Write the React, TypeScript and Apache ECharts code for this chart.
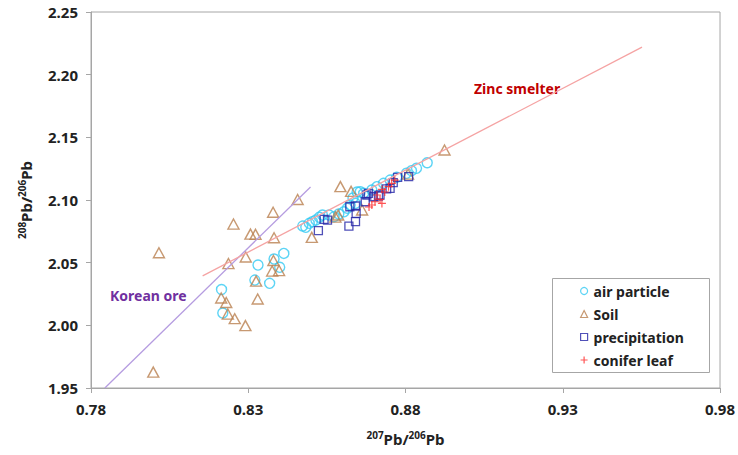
import React, { useEffect, useRef } from "react";
import * as echarts from "echarts";

const xTicks = [0.78, 0.83, 0.88, 0.93, 0.98];
const yTicks = [1.95, 2.0, 2.05, 2.1, 2.15, 2.2, 2.25];

const airParticle: [number, number][] = [
  [0.8413, 2.0574], [0.8331, 2.0481], [0.8382, 2.0529], [0.84, 2.0463],
  [0.8321, 2.0361], [0.8368, 2.0335], [0.8215, 2.0286], [0.8219, 2.0098],
  [0.8473, 2.0792], [0.8483, 2.0782], [0.8494, 2.0814], [0.8504, 2.0827],
  [0.8515, 2.084], [0.8526, 2.0862], [0.8536, 2.088], [0.8557, 2.088],
  [0.8573, 2.0867], [0.8588, 2.0888], [0.8604, 2.0906], [0.8615, 2.0934],
  [0.8641, 2.0973], [0.8656, 2.1066], [0.8667, 2.1053], [0.8693, 2.108],
  [0.8709, 2.1106], [0.873, 2.1133], [0.8751, 2.1159], [0.8772, 2.1181],
  [0.8803, 2.1213], [0.8819, 2.1234], [0.8835, 2.1253], [0.8869, 2.1297],
  [0.8646, 2.1064], [0.8633, 2.1016], [0.8624, 2.096],
];

const soil: [number, number][] = [
  [0.7998, 1.9627], [0.8016, 2.0579], [0.8237, 2.0493], [0.8292, 2.0545],
  [0.838, 2.0517], [0.8376, 2.0433], [0.8398, 2.0437], [0.8325, 2.0353],
  [0.833, 2.021], [0.8214, 2.0218], [0.823, 2.0182], [0.8235, 2.009],
  [0.8257, 2.0053], [0.8291, 1.9998], [0.8253, 2.0808], [0.8379, 2.0902],
  [0.8307, 2.0728], [0.8323, 2.0726], [0.8382, 2.0699], [0.8457, 2.1004],
  [0.8502, 2.0702], [0.8593, 2.1107], [0.8627, 2.1069], [0.8586, 2.088],
  [0.8577, 2.0864], [0.8662, 2.092], [0.8808, 2.1207], [0.8924, 2.1399],
];

const precipitation: [number, number][] = [
  [0.8523, 2.0755], [0.8541, 2.0846], [0.8552, 2.084], [0.862, 2.0792],
  [0.8641, 2.0827], [0.8623, 2.0946], [0.8641, 2.0952], [0.8643, 2.0894],
  [0.8672, 2.0986], [0.8682, 2.1053], [0.8677, 2.104], [0.8698, 2.1026],
  [0.8714, 2.1032], [0.874, 2.1088], [0.8751, 2.1093], [0.8761, 2.1138],
  [0.8775, 2.1181], [0.881, 2.1186], [0.8719, 2.104],
];

const coniferLeaf: [number, number][] = [
  [0.8703, 2.0986], [0.8719, 2.1005], [0.8725, 2.0973], [0.8693, 2.096],
  [0.8709, 2.104], [0.8725, 2.1085], [0.8746, 2.1106], [0.8756, 2.1133],
  [0.8734, 2.1064], [0.8684, 2.0944], [0.8766, 2.1159],
];

const koreanOreLine: [number, number][] = [[0.7844, 1.95], [0.8498, 2.1104]];
const zincSmelterLine: [number, number][] = [[0.8155, 2.0395], [0.9552, 2.222]];

const FONT = "'Noto Sans', 'DejaVu Sans', sans-serif";

export default function App() {
  const ref = useRef<HTMLDivElement>(null);
  useEffect(() => {
    if (!ref.current) return;
    const chart = echarts.init(ref.current, undefined, { renderer: "svg" });
    const hollow = (c: string, w = 1.3) => ({ color: "rgba(0,0,0,0)", borderColor: c, borderWidth: w });
    const nameRich = {
      sup: { fontSize: 10, fontWeight: "bold", fontFamily: FONT, color: "#222", verticalAlign: "top", lineHeight: 18 },
      b: { fontSize: 15, fontWeight: "bold", fontFamily: FONT, color: "#222", lineHeight: 18 },
    };
    chart.setOption({
      animation: false,
      backgroundColor: "#fff",
      grid: { left: 91, right: 11, top: 12, bottom: 67, show: true, borderColor: "#a6a6a6", borderWidth: 1 },
      xAxis: {
        type: "value",
        min: 0.78,
        max: 0.98,
        name: "{sup|207}{b|Pb/}{sup|206}{b|Pb}",
        nameLocation: "middle",
        nameGap: 42,
        nameTextStyle: { rich: nameRich },
        axisLine: { lineStyle: { color: "#a6a6a6" } },
        axisTick: { inside: false, length: 5, lineStyle: { color: "#a6a6a6" }, customValues: xTicks },
        splitLine: { show: false },
        axisLabel: {
          customValues: xTicks,
          formatter: (v: number) => v.toFixed(2),
          fontSize: 15, fontWeight: "bold", fontFamily: FONT, color: "#222", margin: 13,
        },
      },
      yAxis: {
        type: "value",
        min: 1.95,
        max: 2.25,
        name: "{sup|208}{b|Pb/}{sup|206}{b|Pb}",
        nameLocation: "middle",
        nameRotate: 90,
        nameGap: 56,
        nameTextStyle: { rich: nameRich },
        axisLine: { show: true, lineStyle: { color: "#a6a6a6" } },
        axisTick: { show: true, inside: false, length: 5, lineStyle: { color: "#a6a6a6" }, customValues: yTicks },
        splitLine: { show: false },
        axisLabel: {
          customValues: yTicks,
          formatter: (v: number) => v.toFixed(2),
          fontSize: 15, fontWeight: "bold", fontFamily: FONT, color: "#222", margin: 13,
        },
      },
      legend: {
        data: ["air particle", "Soil", "precipitation", "conifer leaf"],
        orient: "vertical",
        left: 580,
        top: 284,
        itemWidth: 7,
        itemHeight: 7,
        itemGap: 9,
        padding: 0,
        itemStyle: { borderWidth: 1.2 },
        textStyle: { fontSize: 14, fontWeight: "bold", fontFamily: FONT, color: "#222", padding: [0, 0, 0, 1] },
      },
      graphic: [
        { type: "rect", left: 552, top: 278, shape: { width: 157, height: 94 }, style: { fill: "#fff", stroke: "#a6a6a6", lineWidth: 1 }, z: -1, zlevel: 0 },
        { type: "text", left: 110, top: 288, style: { text: "Korean ore", fill: "#7030a0", font: `bold 14px ${FONT}` } },
        { type: "text", left: 474, top: 81, style: { text: "Zinc smelter", fill: "#c00000", font: `bold 14px ${FONT}` } },
      ],
      series: [
        { name: "Korean ore line", type: "line", data: koreanOreLine, symbol: "none", lineStyle: { color: "#b59ce0", width: 1.3 }, silent: true },
        { name: "Zinc smelter line", type: "line", data: zincSmelterLine, symbol: "none", lineStyle: { color: "#f5a3a3", width: 1.3 }, silent: true },
        { name: "air particle", type: "scatter", data: airParticle, symbol: "circle", symbolSize: 10, itemStyle: hollow("#33c9f2", 1.4) },
        { name: "Soil", type: "scatter", data: soil, symbol: "triangle", symbolSize: [11, 10], itemStyle: hollow("#b9804f", 1.4) },
        { name: "precipitation", type: "scatter", data: precipitation, symbol: "rect", symbolSize: 8, itemStyle: hollow("#2424a6", 1.3) },
        { name: "conifer leaf", type: "scatter", data: coniferLeaf, symbol: "path://M5,0L5,10M0,5L10,5", symbolSize: 8, itemStyle: hollow("#ff2a2a", 1.2) },
      ],
    });
    return () => chart.dispose();
  }, []);
  return <div ref={ref} style={{ width: 738, height: 455, position: "absolute", left: 0, top: 0 }} />;
}
